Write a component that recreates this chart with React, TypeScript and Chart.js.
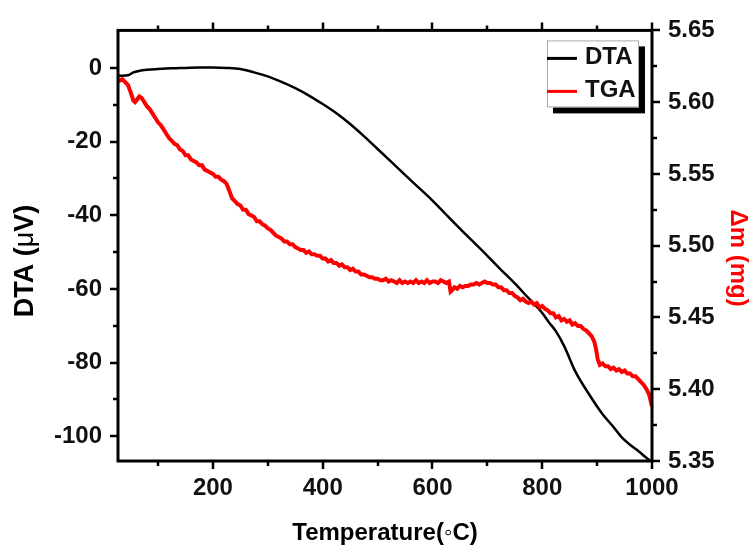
import { useEffect, useRef } from "react";
import { Chart, registerables } from "chart.js";

Chart.register(...registerables);

// ---- Data ----
const dtaTemps = [26, 35, 45, 55, 65, 80, 100, 125, 150, 175, 200, 225, 250, 275, 300, 325, 350, 375, 400, 425, 450, 475, 500, 525, 550, 575, 600, 625, 650, 675, 700, 725, 750, 775, 800, 812, 825, 840, 860, 885, 910, 930, 945, 960, 975, 988, 1000];
const dtaValues = [-2.1, -2.1, -2.0, -1.2, -0.8, -0.5, -0.3, -0.1, 0.0, 0.1, 0.1, 0.0, -0.3, -1.2, -2.3, -3.8, -5.5, -7.5, -9.8, -12.3, -15.2, -18.5, -22.0, -25.5, -29.0, -32.5, -36.0, -39.8, -43.6, -47.3, -51.0, -54.8, -58.5, -62.5, -66.5, -69.0, -71.5, -75.5, -82.3, -88.5, -94.0, -97.5, -100.3, -102.3, -104.0, -105.6, -107.0];

const tgaTemps = [26, 30, 35, 40, 45, 50, 55, 58, 62, 66, 70, 75, 80, 85, 90, 95,
  100, 105, 110, 115, 120, 125, 130, 135, 140, 145, 150, 155, 160, 165, 170, 175, 180, 185, 190, 195,
  200, 205, 210, 215, 220, 225, 230, 235, 240, 245, 250, 255, 260, 265, 270, 275, 280, 285, 290, 295,
  300, 305, 310, 315, 320, 325, 330, 335, 340, 345, 350, 355, 360, 365, 370, 375, 380, 385, 390, 395,
  400, 405, 410, 415, 420, 425, 430, 435, 440, 445, 450, 455, 460, 465, 470, 475, 480, 485, 490, 495,
  500, 505, 510, 515, 520, 525, 530, 535, 540, 545, 550, 555, 560, 565, 570, 575, 580, 585, 590, 595,
  600, 605, 610, 615, 620, 625, 630, 633, 636, 640, 645, 650, 655, 660, 665, 670, 675, 680, 685, 690, 695,
  700, 705, 710, 715, 720, 725, 730, 735, 740, 745, 750, 755, 760, 765, 770, 775, 780, 785, 790, 795,
  800, 805, 810, 815, 820, 825, 830, 835, 840, 845, 850, 855, 860, 865, 870, 875, 880, 885, 890, 895, 898,
  901, 905, 910, 915, 920, 925, 930, 935, 940, 945, 950, 955, 960, 965, 970, 975, 980, 985, 990, 995, 1000];
const tgaValues = [5.616, 5.615, 5.616, 5.614, 5.612, 5.607, 5.601, 5.600, 5.602, 5.604, 5.603, 5.600, 5.597, 5.595, 5.592, 5.589,
  5.586, 5.584, 5.581, 5.578, 5.575, 5.573, 5.571, 5.570, 5.567, 5.566, 5.563, 5.563, 5.560, 5.559, 5.558, 5.556, 5.556, 5.553, 5.552, 5.551,
  5.550, 5.548, 5.548, 5.546, 5.545, 5.543, 5.538, 5.533, 5.531, 5.529, 5.528, 5.525, 5.525, 5.522, 5.521, 5.520, 5.517, 5.517, 5.515, 5.514,
  5.512, 5.511, 5.509, 5.507, 5.506, 5.505, 5.503, 5.503, 5.501, 5.501, 5.499, 5.498, 5.497, 5.497, 5.495, 5.496, 5.494, 5.494, 5.493, 5.493,
  5.491, 5.491, 5.489, 5.490, 5.488, 5.488, 5.486, 5.487, 5.485, 5.485, 5.483, 5.484, 5.482, 5.482, 5.480, 5.480, 5.479, 5.478, 5.478, 5.477,
  5.477, 5.476, 5.476, 5.477, 5.475, 5.476, 5.475, 5.474, 5.476, 5.474, 5.475, 5.474, 5.475, 5.474, 5.476, 5.474, 5.475, 5.474, 5.476, 5.474,
  5.475, 5.475, 5.474, 5.476, 5.475, 5.474, 5.475, 5.468, 5.469, 5.471, 5.470, 5.472, 5.471, 5.472, 5.472, 5.473, 5.473, 5.474, 5.473, 5.474, 5.475,
  5.474, 5.474, 5.473, 5.473, 5.471, 5.471, 5.469, 5.469, 5.467, 5.467, 5.465, 5.464, 5.462, 5.463, 5.461, 5.460, 5.461, 5.459, 5.460, 5.457,
  5.458, 5.456, 5.455, 5.453, 5.453, 5.450, 5.451, 5.448, 5.449, 5.447, 5.448, 5.445, 5.446, 5.444, 5.444, 5.442, 5.441, 5.439, 5.437, 5.433, 5.428,
  5.421, 5.417, 5.418, 5.416, 5.416, 5.414, 5.415, 5.413, 5.414, 5.412, 5.413, 5.411, 5.411, 5.409, 5.409, 5.407, 5.405, 5.403, 5.400, 5.396, 5.388];

const seriesLabels = ["DTA", "TGA"];
const xMajorTicks = [200, 400, 600, 800, 1000];
const xMinorTicks = [100, 300, 500, 700, 900];
const dtaMajorTicks = [-100, -80, -60, -40, -20, 0];
const dtaMinorTicks = [-90, -70, -50, -30, -10];
const tgaMajorTicks = [5.35, 5.4, 5.45, 5.5, 5.55, 5.6, 5.65];
const tgaMinorTicks = [5.375, 5.425, 5.475, 5.525, 5.575, 5.625];

const xTitle = "Temperature(◦C)";
const yTitleParts = ["DTA (", "μ", "V)"];
const y1Title = "Δm (mg)";

const FONT = '"Liberation Sans", Arial, sans-serif';

const frameTicksPlugin = {
  id: "frameTicks",
  afterDatasetsDraw(chart: any) {
    const { ctx, chartArea: a, scales } = chart;
    ctx.save();
    ctx.strokeStyle = "#000";
    ctx.lineWidth = 3;
    ctx.strokeRect(a.left, a.top, a.right - a.left, a.bottom - a.top);
    ctx.lineWidth = 2.5;
    const major = 8;
    const minor = 5;
    const xs = scales.x;
    const drawX = (vals: number[], len: number) =>
      vals.forEach((v) => {
        const px = Math.round(xs.getPixelForValue(v));
        ctx.beginPath();
        ctx.moveTo(px, a.bottom);
        ctx.lineTo(px, a.bottom + len);
        ctx.moveTo(px, a.top);
        ctx.lineTo(px, a.top - len);
        ctx.stroke();
      });
    drawX(xMajorTicks, major);
    drawX(xMinorTicks, minor);
    const ys = scales.y;
    const drawY = (vals: number[], len: number) =>
      vals.forEach((v) => {
        const py = Math.round(ys.getPixelForValue(v));
        ctx.beginPath();
        ctx.moveTo(a.left, py);
        ctx.lineTo(a.left - len, py);
        ctx.stroke();
      });
    drawY(dtaMajorTicks, major);
    drawY(dtaMinorTicks, minor);
    const y1 = scales.y1;
    const drawY1 = (vals: number[], len: number) =>
      vals.forEach((v) => {
        const py = Math.round(y1.getPixelForValue(v));
        ctx.beginPath();
        ctx.moveTo(a.right, py);
        ctx.lineTo(a.right + len, py);
        ctx.stroke();
      });
    drawY1(tgaMajorTicks, major);
    drawY1(tgaMinorTicks, minor);
    ctx.restore();
  },
};

const titlesLegendPlugin = {
  id: "titlesLegend",
  afterDraw(chart: any) {
    const { ctx, chartArea: a } = chart;
    ctx.save();
    // X title
    ctx.fillStyle = "#000";
    ctx.font = `bold 24px ${FONT}`;
    ctx.textAlign = "center";
    ctx.textBaseline = "alphabetic";
    ctx.fillText(xTitle, (a.left + a.right) / 2, 540);

    // Left title (rotated)
    const fonts = [`bold 27px ${FONT}`, `27px ${FONT}`, `bold 27px ${FONT}`];
    const widths = yTitleParts.map((t, i) => {
      ctx.font = fonts[i];
      return ctx.measureText(t).width;
    });
    const total = widths.reduce((s, w) => s + w, 0);
    ctx.save();
    ctx.translate(33, 261);
    ctx.rotate(-Math.PI / 2);
    ctx.textAlign = "left";
    let cx = -total / 2;
    yTitleParts.forEach((t, i) => {
      ctx.font = fonts[i];
      ctx.fillText(t, cx, 0);
      cx += widths[i];
    });
    ctx.restore();

    // Right title (rotated)
    ctx.save();
    ctx.translate(731, 258);
    ctx.rotate(Math.PI / 2);
    ctx.fillStyle = "#ff0000";
    ctx.font = `bold 24px ${FONT}`;
    ctx.textAlign = "center";
    ctx.fillText(y1Title, 0, 0);
    ctx.restore();

    // Legend
    const bx = a.right - 105;
    const by = a.top + 10;
    const bw = 92;
    const bh = 67;
    ctx.fillStyle = "#000";
    ctx.fillRect(bx + 6, by + 6, bw, bh);
    ctx.fillStyle = "#fff";
    ctx.fillRect(bx, by, bw, bh);
    ctx.strokeStyle = "#aaa";
    ctx.lineWidth = 1;
    ctx.strokeRect(bx + 0.5, by + 0.5, bw - 1, bh - 1);
    const ds = chart.data.datasets;
    const rows = [by + 18, by + 51];
    ds.forEach((d: any, i: number) => {
      ctx.strokeStyle = d.borderColor;
      ctx.lineWidth = 3;
      ctx.beginPath();
      ctx.moveTo(bx, rows[i]);
      ctx.lineTo(bx + 30, rows[i]);
      ctx.stroke();
      ctx.fillStyle = "#111";
      ctx.font = `bold 24px ${FONT}`;
      ctx.textAlign = "left";
      ctx.textBaseline = "middle";
      ctx.fillText(d.label, bx + 38, rows[i] - 1);
    });
    ctx.restore();
  },
};

export default function App() {
  const ref = useRef<HTMLCanvasElement | null>(null);

  useEffect(() => {
    if (!ref.current) return;
    const tickFont = { family: FONT, size: 24, weight: "bold" as const };
    const chart = new Chart(ref.current, {
      type: "line",
      data: {
        datasets: [
          {
            label: seriesLabels[0],
            data: dtaTemps.map((t, i) => ({ x: t, y: dtaValues[i] })),
            borderColor: "#000000",
            borderWidth: 2.5,
            pointRadius: 0,
            cubicInterpolationMode: "monotone",
            yAxisID: "y",
            order: 1,
          },
          {
            label: seriesLabels[1],
            data: tgaTemps.map((t, i) => ({ x: t, y: tgaValues[i] })),
            borderColor: "#ff0000",
            borderWidth: 4,
            pointRadius: 0,
            tension: 0,
            yAxisID: "y1",
            order: 0,
          },
        ],
      },
      options: {
        animation: false,
        responsive: false,
        layout: { padding: { top: 25, left: 0, right: 0, bottom: 0 } },
        plugins: { legend: { display: false }, tooltip: { enabled: false } },
        scales: {
          x: {
            type: "linear",
            min: 27,
            max: 1000,
            grid: { display: false, drawTicks: false },
            border: { display: false },
            afterBuildTicks: (s: any) => {
              s.ticks = xMajorTicks.map((v) => ({ value: v }));
            },
            afterFit: (s: any) => {
              s.height = 85;
            },
            ticks: {
              font: tickFont,
              color: "#111",
              padding: 13,
              maxRotation: 0,
              autoSkip: false,
              callback: (v: any) => String(v),
            },
          },
          y: {
            type: "linear",
            position: "left",
            min: -106.7,
            max: 10.2,
            grid: { display: false, drawTicks: false },
            border: { display: false },
            afterBuildTicks: (s: any) => {
              s.ticks = dtaMajorTicks.map((v) => ({ value: v }));
            },
            afterFit: (s: any) => {
              s.width = 118;
            },
            ticks: { font: tickFont, color: "#111", padding: 16, callback: (v: any) => String(v) },
          },
          y1: {
            type: "linear",
            position: "right",
            min: 5.35,
            max: 5.65,
            grid: { display: false, drawTicks: false },
            border: { display: false },
            afterBuildTicks: (s: any) => {
              s.ticks = tgaMajorTicks.map((v) => ({ value: v }));
            },
            afterFit: (s: any) => {
              s.width = 101;
            },
            ticks: {
              font: tickFont,
              color: "#111",
              padding: 16,
              callback: (v: any) => Number(v).toFixed(2),
            },
          },
        },
      },
      plugins: [frameTicksPlugin, titlesLegendPlugin],
    });
    return () => chart.destroy();
  }, []);

  return (
    <div style={{ position: "absolute", left: 0, top: 0, width: 753, height: 546, background: "#fff" }}>
      <canvas ref={ref} width={753} height={546} style={{ display: "block" }} />
    </div>
  );
}
